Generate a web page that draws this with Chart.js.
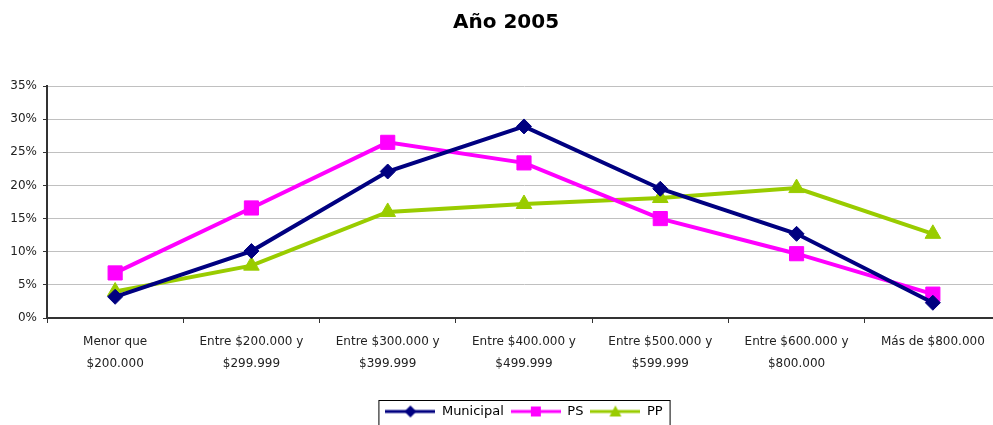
<!DOCTYPE html>
<html>
<head>
<meta charset="utf-8">
<script src="https://cdn.jsdelivr.net/npm/chart.js@4.4.1/dist/chart.umd.min.js"></script>
<style>
    html, body { margin: 0; padding: 0; background: #fff; overflow: hidden; }
    #wrap { width: 1012px; height: 428px; }
</style>
</head>
<body>
<div id="wrap"><canvas id="chart" width="1012" height="428"></canvas></div>
<script>
const categories = [
    ['Menor que', '$200.000'],
    ['Entre $200.000 y', '$299.999'],
    ['Entre $300.000 y', '$399.999'],
    ['Entre $400.000 y', '$499.999'],
    ['Entre $500.000 y', '$599.999'],
    ['Entre $600.000 y', '$800.000'],
    ['Más de $800.000']
];
const municipal = [3.2, 10.1, 22.1, 28.9, 19.5, 12.7, 2.3];
const ps = [6.8, 16.6, 26.5, 23.4, 15.0, 9.7, 3.6];
const pp = [4.0, 7.9, 16.0, 17.2, 18.1, 19.6, 12.7];
const yTicks = [0, 5, 10, 15, 20, 25, 30, 35];

const FONT = 'DejaVu Sans';

// small canvas: line with marker in the middle, used as legend symbol
function legendSymbol(color, style) {
    const c = document.createElement('canvas');
    c.width = 50; c.height = 14;
    const ctx = c.getContext('2d');
    ctx.strokeStyle = color;
    ctx.fillStyle = color;
    ctx.lineWidth = 3;
    ctx.beginPath();
    ctx.moveTo(0, 7); ctx.lineTo(50, 7);
    ctx.stroke();
    ctx.beginPath();
    if (style === 'rectRot') {
        ctx.moveTo(25, 1); ctx.lineTo(31, 7); ctx.lineTo(25, 13); ctx.lineTo(19, 7);
    } else if (style === 'rect') {
        ctx.rect(20, 2, 10, 10);
    } else {
        ctx.moveTo(25, 1); ctx.lineTo(31, 12); ctx.lineTo(19, 12);
    }
    ctx.closePath();
    ctx.fill();
    return c;
}

const legendBorder = {
    id: 'legendBorder',
    afterLayout(chart) {
        chart.legend.left += 18;
        chart.legend.right += 18;
    },
    afterDraw(chart) {
        const boxes = chart.legend.legendHitBoxes;
        if (!boxes || !boxes.length) return;
        const first = boxes[0], last = boxes[boxes.length - 1];
        const ctx = chart.ctx;
        ctx.save();
        ctx.strokeStyle = '#000';
        ctx.lineWidth = 1;
        ctx.strokeRect(first.left - 6.5, first.top - 4.5, last.left + last.width - first.left + 14, 30);
        ctx.restore();
    }
};

function makeSet(label, data, color, style, radius) {
    return {
        label: label,
        data: data,
        borderColor: color,
        backgroundColor: color,
        borderWidth: 4,
        pointStyle: style,
        pointRadius: radius,
        pointHoverRadius: radius,
        pointBorderWidth: 1,
        tension: 0
    };
}

new Chart(document.getElementById('chart'), {
    type: 'line',
    data: {
        labels: categories,
        datasets: [
            makeSet('Municipal', municipal, '#000080', 'rectRot', 7.5),
            makeSet('PS', ps, '#ff00ff', 'rect', 10),
            makeSet('PP', pp, '#99cc00', 'triangle', 9)
        ]
    },
    options: {
        responsive: false,
        animation: false,
        layout: { padding: 0 },
        plugins: {
            title: {
                display: true,
                text: 'Año 2005',
                color: '#000',
                font: { family: FONT, size: 20, weight: 'bold', lineHeight: 1.2 },
                padding: { top: 11, bottom: 51 }
            },
            legend: {
                position: 'bottom',
                labels: {
                    color: '#000',
                    font: { family: FONT, size: 13 },
                    usePointStyle: true,
                    pointStyleWidth: 50,
                    padding: 7,
                    generateLabels(chart) {
                        const styles = ['rectRot', 'rect', 'triangle'];
                        return chart.data.datasets.map((ds, i) => ({
                            text: ds.label,
                            fillStyle: ds.borderColor,
                            strokeStyle: ds.borderColor,
                            lineWidth: 0,
                            pointStyle: legendSymbol(ds.borderColor, styles[i]),
                            datasetIndex: i,
                            hidden: false
                        }));
                    }
                }
            },
            tooltip: { enabled: false }
        },
        scales: {
            x: {
                offset: true,
                afterFit(scale) { scale.height = 80; },
                grid: {
                    offset: true,
                    drawOnChartArea: false,
                    drawTicks: true,
                    tickLength: 5,
                    color: '#333'
                },
                border: { color: '#333', width: 2 },
                ticks: {
                    color: '#222',
                    font: { family: FONT, size: 12, lineHeight: 1.8 },
                    padding: 8,
                    maxRotation: 0,
                    autoSkip: false
                }
            },
            y: {
                min: 0,
                max: 35,
                afterFit(scale) { scale.width = 47; },
                afterBuildTicks(scale) {
                    scale.ticks = yTicks.map(v => ({ value: v }));
                },
                grid: {
                    color: '#c0c0c0',
                    lineWidth: 1,
                    tickLength: 4,
                    tickColor: '#333'
                },
                border: { color: '#333', width: 2 },
                ticks: {
                    color: '#222',
                    font: { family: FONT, size: 12 },
                    padding: 6,
                    callback: v => v + '%'
                }
            }
        }
    },
    plugins: [legendBorder]
});
</script>
</body>
</html>
